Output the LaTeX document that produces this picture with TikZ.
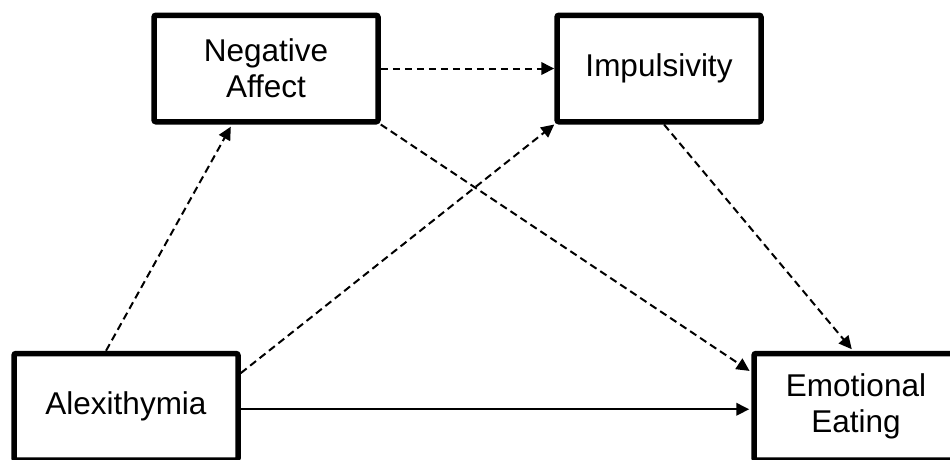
\documentclass[tikz,border=0pt]{standalone}
\usepackage{fontspec}
\setmainfont{Liberation Sans}
\usetikzlibrary{arrows.meta,calc}
\begin{document}
\begin{tikzpicture}[x=1pt,y=-1pt,
  box/.style={draw,line width=5.5pt,rounded corners=2pt,minimum height=106.5pt,inner sep=0pt,align=center,font=\fontsize{31.5}{36}\selectfont},
  conn/.style={line width=2pt,-{Triangle[length=13pt,width=12.5pt]}},
  dashconn/.style={conn,dash pattern=on 7.5pt off 4.5pt}]
\useasboundingbox (0,0) rectangle (950,459);
\clip (0,0) rectangle (950,459);
\node[box,minimum width=224pt] (na) at (266,68.5) {Negative\\Affect};
\node[box,minimum width=204pt] (imp) at (659,68.5) {Impulsivity};
\node[box,minimum width=224pt] (alex) at (126,406.75) {Alexithymia};
\node[box,minimum width=204pt] (ee) at (856,406.75) {Emotional\\Eating};
\draw[dashconn,shorten >=2.5pt] ($(alex.north west)!0.413!(alex.north east)$) -- ($(na.south west)!0.352!(na.south east)$);
\draw[dashconn] ($(alex.north east)!0.2!(alex.south east)$) -- (imp.south west);
\draw[dashconn] (na.east) -- (imp.west);
\draw[dashconn,shorten >=2pt] (na.south east) -- ($(ee.north west)!0.19!(ee.south west)$);
\draw[dashconn,shorten >=2pt] ($(imp.south west)!0.524!(imp.south east)$) -- ($(ee.north west)!0.486!(ee.north east)$);
\draw[conn,shorten >=2pt] ([yshift=-2.5pt]alex.east) -- ([yshift=-2.5pt]ee.west);
\end{tikzpicture}
\end{document}
